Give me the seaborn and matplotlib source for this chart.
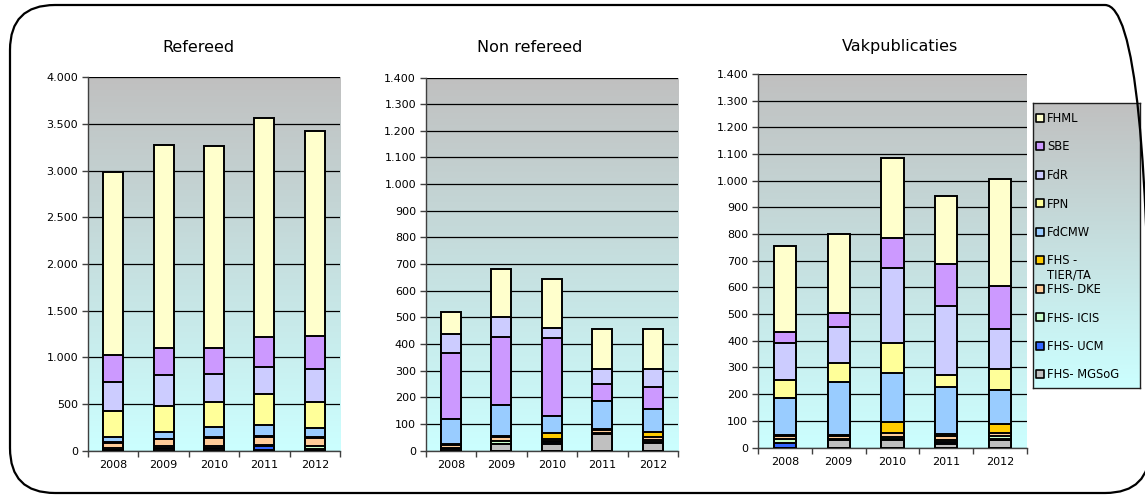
import numpy as np
import matplotlib
matplotlib.use("Agg")
import matplotlib.pyplot as plt
import seaborn as sns
from matplotlib.patches import FancyBboxPatch
from matplotlib.transforms import IdentityTransform
from matplotlib.ticker import FuncFormatter, MultipleLocator

# ---------------- data ----------------
years = ["2008", "2009", "2010", "2011", "2012"]
series = ["FHS- MGSoG", "FHS- UCM", "FHS- ICIS", "FHS- DKE", "FHS -\nTIER/TA",
          "FdCMW", "FPN", "FdR", "SBE", "FHML"]
colors = ["#C0C0C0", "#3366FF", "#CCFFCC", "#FFCC99", "#FFCC00",
          "#99CCFF", "#FFFF99", "#CCCCFF", "#CC99FF", "#FFFFCC"]
titles = ["Refereed", "Non refereed", "Vakpublicaties"]

# Refereed
ref_MGSoG = [5, 15, 20, 5, 10]
ref_UCM = [0, 10, 10, 40, 5]
ref_ICIS = [20, 30, 25, 20, 30]
ref_DKE = [60, 65, 85, 80, 95]
ref_TIER = [5, 10, 10, 15, 10]
ref_FdCMW = [55, 65, 105, 120, 95]
ref_FPN = [280, 285, 265, 325, 280]
ref_FdR = [315, 330, 300, 295, 350]
ref_SBE = [280, 290, 285, 320, 355]
ref_FHML = [1970, 2170, 2155, 2340, 2195]

# Non refereed
non_MGSoG = [8, 24, 27, 62, 28]
non_UCM = [0, 0, 5, 2, 3]
non_ICIS = [3, 14, 6, 2, 10]
non_DKE = [12, 14, 7, 10, 12]
non_TIER = [3, 3, 20, 6, 17]
non_FdCMW = [92, 115, 67, 105, 88]
non_FPN = [0, 0, 0, 0, 0]
non_FdR = [70, 72, 37, 53, 67]
non_SBE = [250, 258, 290, 65, 80]
non_FHML = [84, 182, 185, 152, 152]

# Vakpublicaties
vak_MGSoG = [0, 28, 27, 12, 28]
vak_UCM = [16, 0, 4, 8, 5]
vak_ICIS = [14, 2, 8, 7, 9]
vak_DKE = [12, 12, 14, 16, 14]
vak_TIER = [6, 6, 42, 7, 32]
vak_FdCMW = [136, 196, 185, 178, 127]
vak_FPN = [68, 71, 110, 42, 79]
vak_FdR = [138, 136, 284, 261, 149]
vak_SBE = [42, 52, 110, 158, 164]
vak_FHML = [323, 299, 301, 253, 400]

panel_data = [
    [ref_MGSoG, ref_UCM, ref_ICIS, ref_DKE, ref_TIER, ref_FdCMW, ref_FPN, ref_FdR, ref_SBE, ref_FHML],
    [non_MGSoG, non_UCM, non_ICIS, non_DKE, non_TIER, non_FdCMW, non_FPN, non_FdR, non_SBE, non_FHML],
    [vak_MGSoG, vak_UCM, vak_ICIS, vak_DKE, vak_TIER, vak_FdCMW, vak_FPN, vak_FdR, vak_SBE, vak_FHML],
]
# stacking order (bottom -> top) per panel, as indices into `series`
stack_order = [
    [0, 1, 2, 3, 4, 5, 6, 7, 8, 9],
    [0, 1, 2, 3, 4, 5, 6, 8, 7, 9],
    [0, 1, 2, 3, 4, 5, 6, 7, 8, 9],
]
y_max = [4000, 1400, 1400]
y_step = [500, 100, 100]

# ---------------- style ----------------
sns.set_theme(style="white")
plt.rcParams["font.family"] = ["DejaVu Sans"]

W, H = 1145, 500
fig = plt.figure(figsize=(W / 100, H / 100), dpi=100)

def px_rect(x0, y0, x1, y1):
    """pixel box (top-left origin) -> figure fraction rect"""
    return [x0 / W, 1 - y1 / H, (x1 - x0) / W, (y1 - y0) / H]

axes_px = [(88, 77.3, 340, 450.7), (425.7, 77.5, 678, 450.7), (758, 74, 1027, 447.5)]
title_px = [(198, 48), (530, 48), (900, 46)]
bar_w = [0.4, 0.4, 0.41]

top_c = np.array([192, 192, 192]) / 255
bot_c = np.array([204, 255, 255]) / 255
t = np.linspace(0, 1, 256)[:, None]
grad = (top_c[None, :] * (1 - t) + bot_c[None, :] * t)[:, None, :]

fmt = FuncFormatter(lambda v, p: f"{int(round(v)):,}".replace(",", "."))

for k in range(3):
    ax = fig.add_axes(px_rect(*axes_px[k]))
    ax.imshow(grad, extent=[0, 1, 0, 1], transform=ax.transAxes,
              aspect="auto", zorder=0)
    order = stack_order[k]
    vals = np.array([panel_data[k][i] for i in order], dtype=float)
    cum = np.cumsum(vals, axis=0)
    for j in range(len(order) - 1, -1, -1):
        sns.barplot(x=years, y=cum[j], color=colors[order[j]], saturation=1,
                    width=bar_w[k], edgecolor="black", linewidth=1.4,
                    errorbar=None, ax=ax, zorder=3)
    ax.set_xlim(-0.5, 4.5)
    ax.set_ylim(0, y_max[k])
    ax.yaxis.set_major_locator(MultipleLocator(y_step[k]))
    ax.yaxis.set_major_formatter(fmt)
    ax.grid(axis="y", color="black", linewidth=0.9, zorder=1)
    ax.grid(axis="x", visible=False)
    ax.set_axisbelow(True)
    for s in ["top", "right"]:
        ax.spines[s].set_visible(False)
    for s in ["left", "bottom"]:
        ax.spines[s].set_color("#404040")
        ax.spines[s].set_linewidth(1.0)
    ax.set_xticks(np.arange(-0.5, 5, 1), minor=True)
    ax.tick_params(axis="x", which="major", length=0, pad=7, labelsize=8, colors="black")
    ax.tick_params(axis="x", which="minor", length=4, width=1, color="#404040", bottom=True)
    ax.tick_params(axis="y", which="major", length=4, width=1, color="#404040",
                   left=True, labelsize=8, pad=3, labelcolor="black")
    ax.set_xlabel("")
    ax.set_ylabel("")
    fig.text(title_px[k][0] / W, 1 - title_px[k][1] / H, titles[k],
             ha="center", va="center", fontsize=11.5, color="black")

# ---------------- legend ----------------
lx0, ly0, lx1, ly1 = 1033, 103, 1140, 388
lax = fig.add_axes(px_rect(lx0, ly0, lx1, ly1))
lax.imshow(grad, extent=[lx0, lx1, ly1, ly0], aspect="auto", zorder=0)
lax.set_xlim(lx0, lx1)
lax.set_ylim(ly1, ly0)
lax.set_xticks([])
lax.set_yticks([])
for s in lax.spines.values():
    s.set_color("#202020")
    s.set_linewidth(1.0)
for j, i in enumerate(range(len(series) - 1, -1, -1)):
    yy = 117.5 + j * 28.5
    lax.scatter([1040], [yy], marker="s", s=26, color=colors[i],
                edgecolor="black", linewidth=1.2, zorder=3)
    lax.text(1047, yy - 5.5, series[i], ha="left", va="top", fontsize=8.3,
             color="black", linespacing=1.15)

# ---------------- rounded outer frame ----------------
frame = FancyBboxPatch((10, 7), 1140, 488, boxstyle="round,pad=0,rounding_size=45",
                       transform=IdentityTransform(), facecolor="none",
                       edgecolor="black", linewidth=1.6, zorder=10)
fig.add_artist(frame)

fig.savefig("out.png", dpi=100)
